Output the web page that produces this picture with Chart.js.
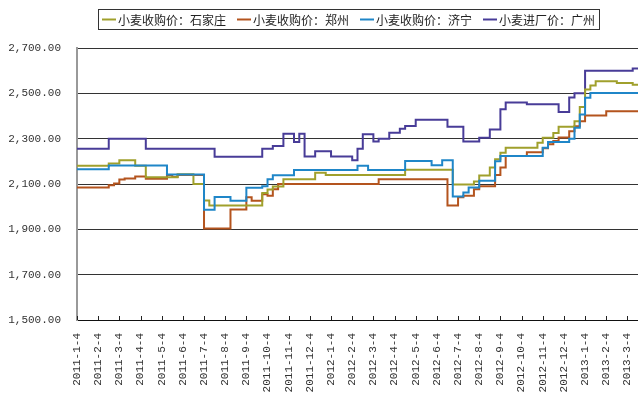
<!DOCTYPE html>
<html>
<head>
<meta charset="utf-8">
<script src="https://cdn.jsdelivr.net/npm/chart.js@4.4.1/dist/chart.umd.min.js"></script>
<style>
  html, body { margin: 0; padding: 0; background: #fff; }
  canvas { display: block; }
</style>
</head>
<body>
<canvas id="chart" width="638" height="393"></canvas>
<script>
// Months on the axis; one point per week (4th, 11th, 18th, 25th)
const months = [
  '2011-1', '2011-2', '2011-3', '2011-4', '2011-5', '2011-6', '2011-7', '2011-8', '2011-9',
  '2011-10', '2011-11', '2011-12', '2012-1', '2012-2', '2012-3', '2012-4', '2012-5', '2012-6',
  '2012-7', '2012-8', '2012-9', '2012-10', '2012-11', '2012-12', '2013-1', '2013-2', '2013-3'
];
const weekDays = [4, 11, 18, 25];
const weekLabels = months.flatMap(m => weekDays.map(d => m + '-' + d)).slice(0, 107);

const seriesNames = ['小麦收购价：石家庄', '小麦收购价：郑州', '小麦收购价：济宁', '小麦进厂价：广州'];

// Weekly prices, yuan/ton
const shijiazhuang = [
  2180, 2180, 2180, 2180, 2180, 2180, 2190, 2190, 2205, 2205, 2205, 2180, 2180,
  2130, 2130, 2130, 2130, 2130, 2130, 2143, 2143, 2143, 2100, 2100, 2027,
  2005, 2005, 2005, 2005, 2005, 2005, 2005, 2005, 2005, 2005,
  2060, 2076, 2089, 2089, 2121, 2121, 2121, 2121, 2121, 2121, 2150, 2150,
  2140, 2140, 2140, 2140, 2140, 2140, 2140, 2140, 2140, 2140, 2140, 2140, 2140, 2140, 2140,
  2163, 2163, 2163, 2163, 2163, 2163, 2163, 2163, 2163,
  2098, 2098, 2098, 2098, 2111, 2137, 2137, 2173, 2209, 2238,
  2260, 2260, 2260, 2260, 2260, 2260, 2282, 2304, 2304, 2325, 2353, 2353, 2353,
  2377, 2440, 2517, 2535, 2553, 2553, 2553, 2553, 2546, 2546, 2546, 2538, 2538
];
const zhengzhou = [
  2085, 2085, 2085, 2085, 2085, 2085, 2095, 2102, 2120, 2124, 2124, 2133, 2133,
  2123, 2123, 2123, 2123, 2140, 2131, 2140, 2140, 2140, 2140, 2140,
  1904, 1904, 1904, 1904, 1904, 1988, 1988, 1988, 2041, 2026, 2026, 2055, 2048, 2077,
  2100, 2100, 2100, 2100, 2100, 2100, 2100, 2100, 2100, 2100, 2100, 2100, 2100, 2100, 2100,
  2100, 2100, 2100, 2100,
  2121, 2121, 2121, 2121, 2121, 2121, 2121, 2121, 2121, 2121, 2121, 2121, 2121,
  2005, 2005, 2041, 2048, 2048, 2077, 2090, 2090, 2090, 2140, 2173,
  2224, 2224, 2224, 2224, 2240, 2240, 2240, 2258, 2275, 2290, 2305, 2305, 2333, 2355, 2377,
  2402, 2402, 2402, 2402, 2421, 2421, 2421, 2421, 2421, 2421, 2421
];
const jining = [
  2165, 2165, 2165, 2165, 2165, 2165,
  2182, 2182, 2182, 2182, 2182, 2182, 2182, 2182, 2182, 2182, 2182,
  2142, 2142, 2142, 2142, 2142, 2142, 2142, 1986, 1986, 2043, 2043, 2043,
  2026, 2026, 2026, 2084, 2084, 2084, 2090, 2121, 2139, 2139, 2139, 2139,
  2162, 2162, 2162, 2162, 2162, 2162, 2162, 2162, 2162, 2162, 2162, 2162, 2180, 2180,
  2162, 2162, 2162, 2162, 2162, 2162, 2162, 2202, 2202, 2202, 2202, 2202, 2183, 2183,
  2205, 2205, 2045, 2045, 2063, 2085, 2085, 2114, 2114, 2114, 2200,
  2224, 2224, 2224, 2224, 2224, 2224, 2224, 2224, 2260, 2285, 2285, 2285, 2285,
  2300, 2348, 2407, 2480,
  2502, 2502, 2502, 2502, 2502, 2502, 2502, 2502, 2502, 2502
];
const guangzhou = [
  2255, 2255, 2255, 2255, 2255, 2255, 2300, 2300, 2300, 2300, 2300, 2300, 2300,
  2255, 2255, 2255, 2255, 2255, 2255, 2255, 2255, 2255, 2255, 2255, 2255, 2255,
  2220, 2220, 2220, 2220, 2220, 2220, 2220, 2220, 2220,
  2255, 2255, 2268, 2268, 2322, 2322, 2285, 2322, 2221, 2221, 2245, 2245, 2245,
  2221, 2221, 2221, 2221, 2205, 2255, 2320, 2320, 2287, 2300, 2300, 2326, 2326,
  2344, 2356, 2356, 2383, 2383, 2383, 2383, 2383, 2383, 2353, 2353, 2353,
  2287, 2287, 2287, 2304, 2304, 2340, 2340, 2430, 2460, 2460, 2460, 2460,
  2452, 2452, 2452, 2452, 2452, 2452, 2418, 2418, 2482, 2500, 2500,
  2600, 2600, 2600, 2600, 2600, 2600, 2600, 2600, 2600, 2610, 2610
];

const lineColors = ['#a0a02c', '#b4541e', '#1f86c8', '#483c98'];
const drawOrder = [1, 2, 0, 3];
const tickFont = { family: '"Liberation Mono", "DejaVu Sans Mono", monospace', size: 11 };

// Framed legend row across the top
const boxedLegend = {
  id: 'boxedLegend',
  afterDraw(chart, args, opts) {
    const ctx = chart.ctx;
    ctx.save();
    ctx.font = '12px "Noto Sans CJK SC"';
    const items = chart.data.datasets.map(ds => ({
      text: ds.label, color: ds.borderColor, w: ctx.measureText(ds.label).width
    }));
    const lineLen = 14, gap = 2, sep = 11, pad = 4;
    const total = pad * 2 + items.reduce((s, it) => s + lineLen + gap + it.w, 0) + sep * (items.length - 1);
    const left = Math.round(opts.centerX - total / 2);
    const top = 9, h = 20;
    ctx.strokeStyle = '#333';
    ctx.lineWidth = 1;
    ctx.strokeRect(left + 0.5, top + 0.5, Math.round(total), h);
    const cy = top + h / 2 + 0.5;
    let x = left + pad;
    ctx.textBaseline = 'middle';
    items.forEach(it => {
      ctx.strokeStyle = it.color;
      ctx.lineWidth = 2;
      ctx.beginPath();
      ctx.moveTo(x, cy);
      ctx.lineTo(x + lineLen, cy);
      ctx.stroke();
      ctx.fillStyle = '#222';
      ctx.fillText(it.text, x + lineLen + gap, cy + 0.5);
      x += lineLen + gap + it.w + sep;
    });
    ctx.restore();
  }
};

// Short inward tick marks at each month on the category axis
const monthTicks = {
  id: 'monthTicks',
  afterDatasetsDraw(chart) {
    const { ctx, chartArea } = chart;
    const xs = chart.scales.x;
    ctx.save();
    ctx.strokeStyle = '#222';
    ctx.lineWidth = 1;
    ctx.beginPath();
    for (let i = 0; i < weekLabels.length; i += 4) {
      const px = Math.round(xs.getPixelForValue(i)) + 0.5;
      ctx.moveTo(px, chartArea.bottom - 4);
      ctx.lineTo(px, chartArea.bottom);
    }
    ctx.stroke();
    ctx.restore();
  }
};

const seriesValues = [shijiazhuang, zhengzhou, jining, guangzhou];

new Chart(document.getElementById('chart'), {
  type: 'line',
  data: {
    labels: weekLabels,
    datasets: seriesNames.map((name, k) => ({
      label: name,
      data: seriesValues[k],
      borderColor: lineColors[k],
      backgroundColor: lineColors[k],
      borderWidth: 2,
      pointRadius: 0,
      stepped: true,
      fill: false,
      order: drawOrder[k]
    }))
  },
  options: {
    responsive: false,
    animation: false,
    layout: { padding: { top: 48, left: 0, right: 0, bottom: 0 } },
    plugins: {
      legend: { display: false },
      tooltip: { enabled: false },
      boxedLegend: { centerX: 349 }
    },
    scales: {
      x: {
        type: 'category',
        offset: false,
        grid: { display: false, drawTicks: false },
        border: { display: true, color: '#111', width: 1 },
        ticks: {
          autoSkip: false,
          minRotation: 90,
          maxRotation: 90,
          padding: 13,
          color: '#333',
          font: tickFont,
          callback: (value, index) => (index % 4 === 0 ? weekLabels[index] : '')
        },
        afterFit(scale) {
          scale.height = 73;
          scale.paddingLeft = 0;
          scale.paddingRight = 0;
        }
      },
      y: {
        min: 1500,
        max: 2700,
        grid: { color: '#333', lineWidth: 1, drawTicks: false },
        border: { display: true, color: '#999', width: 2 },
        ticks: {
          stepSize: 200,
          padding: 16,
          color: '#333',
          font: tickFont,
          callback: v => v.toLocaleString('en-US', { minimumFractionDigits: 2, maximumFractionDigits: 2 })
        },
        afterFit(scale) { scale.width = 77; }
      }
    }
  },
  plugins: [boxedLegend, monthTicks]
});
</script>
</body>
</html>
